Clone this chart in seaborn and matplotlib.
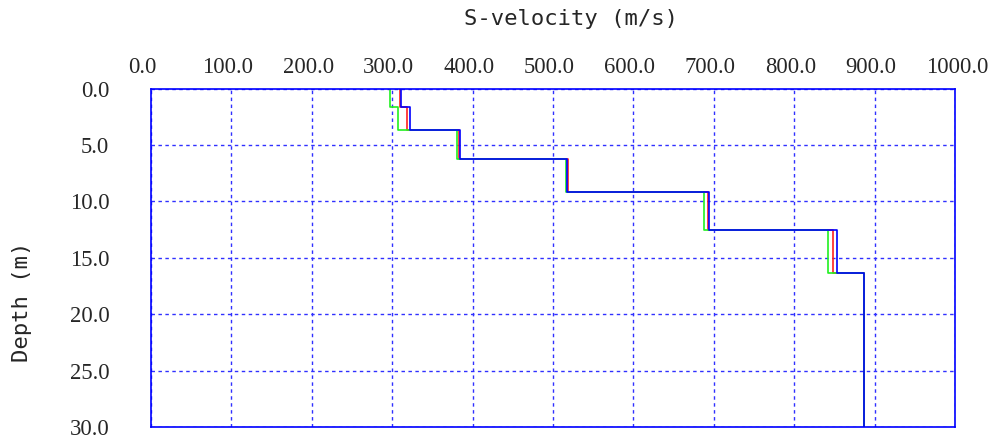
import numpy as np
import pandas as pd
import matplotlib
matplotlib.use("Agg")
import matplotlib.pyplot as plt
import matplotlib.transforms as mtransforms
import seaborn as sns

# layer boundaries (m) and S-velocity per layer (m/s) for three profiles
layer_tops = [0.0, 1.6, 3.7, 6.2, 9.2, 12.5, 16.3]
layer_bottoms = [1.6, 3.7, 6.2, 9.2, 12.5, 16.3, 30.0]
vs_red = [310, 319, 383, 519, 693, 848, 887]
vs_green = [297, 307, 381, 516, 688, 842, 887]
vs_blue = [311, 322, 384, 518, 694, 853, 887]

x_ticks = [0, 100, 200, 300, 400, 500, 600, 700, 800, 900, 1000]
y_ticks = [0, 5, 10, 15, 20, 25, 30]

# build step profiles: each layer gives a vertical segment
rows = []
for name, vs in [("red", vs_red), ("green", vs_green), ("blue", vs_blue)]:
    for i, v in enumerate(vs):
        rows.append({"model": name, "vel": v, "depth": layer_tops[i]})
        rows.append({"model": name, "vel": v, "depth": layer_bottoms[i]})
df = pd.DataFrame(rows)

sns.set_style("white")

fig = plt.figure(figsize=(9.97, 4.45), dpi=100)
ax = fig.add_axes([151 / 997, 1 - 427 / 445, 804 / 997, (427 - 88.7) / 445])

sns.lineplot(data=df, x="vel", y="depth", hue="model", sort=False, estimator=None,
             palette={"red": "#ff2020", "green": "#20f020", "blue": "#0000ff"},
             linewidth=1.2, legend=False, ax=ax)

ax.set_xlim(0, 1000)
ax.set_ylim(30, 0)
ax.set_xticks(x_ticks)
ax.set_yticks(y_ticks)
ax.set_xticklabels([f"{t:.1f}" for t in x_ticks])
ax.set_yticklabels([f"{t:.1f}" for t in y_ticks])
ax.xaxis.tick_top()
ax.tick_params(axis="both", length=0, labelsize=16.3)
ax.tick_params(axis="x", pad=8)
ax.tick_params(axis="y", pad=30)
for lab in ax.get_xticklabels() + ax.get_yticklabels():
    lab.set_fontfamily("Liberation Serif")
# labels sit left of their ticks, as in the original plot
for i, lab in enumerate(ax.get_xticklabels()):
    dx = -23 if i == 0 else -29
    shift = mtransforms.ScaledTranslation(dx / 100, 0, fig.dpi_scale_trans)
    lab.set_horizontalalignment("left")
    lab.set_transform(lab.get_transform() + shift)

ax.set_xlabel("")
ax.set_ylabel("")
ax.grid(True, color="#3030ff", linestyle=(0, (2.5, 2.5)), linewidth=1.0)
for sp in ax.spines.values():
    sp.set_color("#0000ff")
    sp.set_linewidth(1.2)

fig.text(571 / 997, 1 - 19 / 445, "S-velocity (m/s)", ha="center", va="center",
         fontsize=16, family="DejaVu Sans Mono")
fig.text(22 / 997, 1 - 302 / 445, "Depth (m)", ha="center", va="center",
         rotation=90, fontsize=16, family="DejaVu Sans Mono")

fig.savefig("out.png", dpi=100)
